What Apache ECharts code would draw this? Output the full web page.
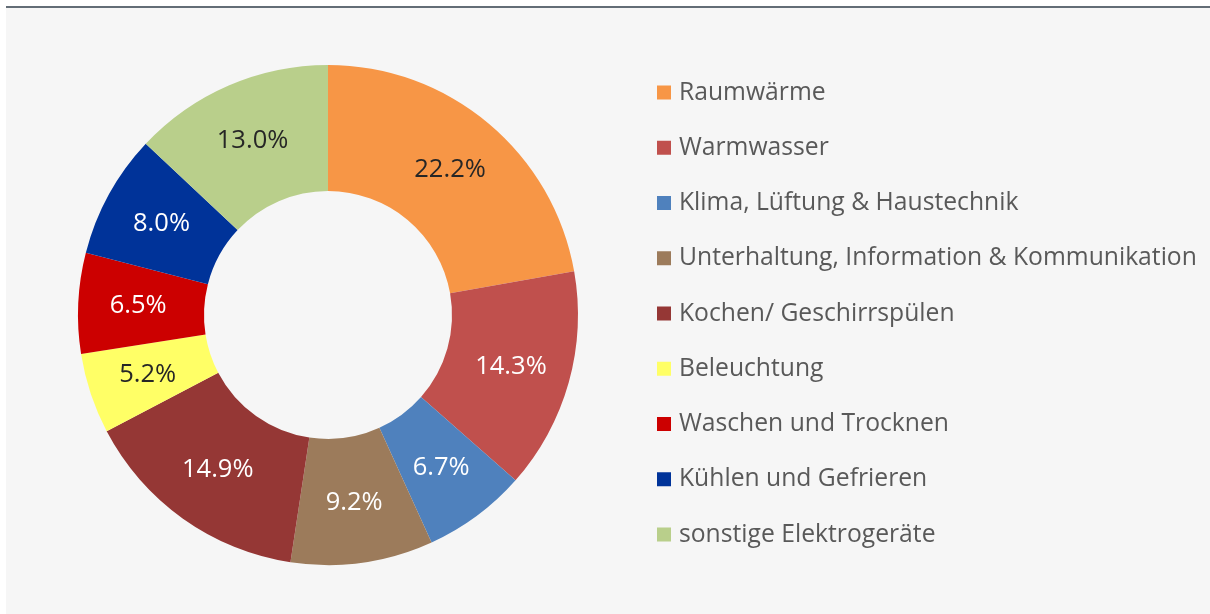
<!DOCTYPE html>
<html>
<head>
<meta charset="utf-8">
<script src="https://cdn.jsdelivr.net/npm/echarts@6/dist/echarts.min.js"></script>
<style>
  html, body { margin: 0; padding: 0; background: #ffffff; width: 1210px; height: 614px; overflow: hidden; }
  #frame { position: absolute; left: 6px; top: 6px; width: 1204px; height: 606px; background: #f6f6f6; border-top: 2px solid #636d76; }
  #chart { position: absolute; left: 0; top: 0; width: 1210px; height: 614px; }
</style>
</head>
<body>
<div id="frame"></div>
<div id="chart"></div>
<script>
const categories = [
  'Raumwärme',
  'Warmwasser',
  'Klima, Lüftung & Haustechnik',
  'Unterhaltung, Information & Kommunikation',
  'Kochen/ Geschirrspülen',
  'Beleuchtung',
  'Waschen und Trocknen',
  'Kühlen und Gefrieren',
  'sonstige Elektrogeräte'
];
const values = [22.2, 14.3, 6.7, 9.2, 14.9, 5.2, 6.5, 8.0, 13.0];
const colors = ['#F79646', '#C0504D', '#4F81BD', '#9C7B5B', '#953735', '#FFFF66', '#CC0000', '#003399', '#B9CF8B'];
const labelColors = ['#262626', '#ffffff', '#ffffff', '#ffffff', '#ffffff', '#262626', '#ffffff', '#ffffff', '#262626'];

const FONT = '"Open Sans", "Liberation Sans", sans-serif';
const chart = echarts.init(document.getElementById('chart'), null, { renderer: 'canvas' });
chart.setOption({
  backgroundColor: 'transparent',
  animation: false,
  color: colors,
  legend: {
    orient: 'vertical',
    left: 652,
    top: 75,
    itemWidth: 14,
    itemHeight: 14,
    itemGap: 30.25,
    icon: 'rect',
    textStyle: { color: '#595959', fontSize: 24.7, fontFamily: FONT, lineHeight: 24, padding: [0, 0, 0, 3] },
    data: categories
  },
  series: [{
    type: 'pie',
    center: [328, 315],
    radius: [124, 250],
    startAngle: 90,
    clockwise: true,
    avoidLabelOverlap: false,
    itemStyle: { borderWidth: 0 },
    label: {
      show: true,
      position: 'inside',
      fontSize: 25.5,
      fontFamily: FONT,
      formatter: p => p.value.toFixed(1) + '%'
    },
    labelLine: { show: false },
    emphasis: { disabled: true },
    data: categories.map((c, i) => ({
      name: c,
      value: values[i],
      label: { color: labelColors[i] }
    }))
  }]
});
</script>
</body>
</html>
